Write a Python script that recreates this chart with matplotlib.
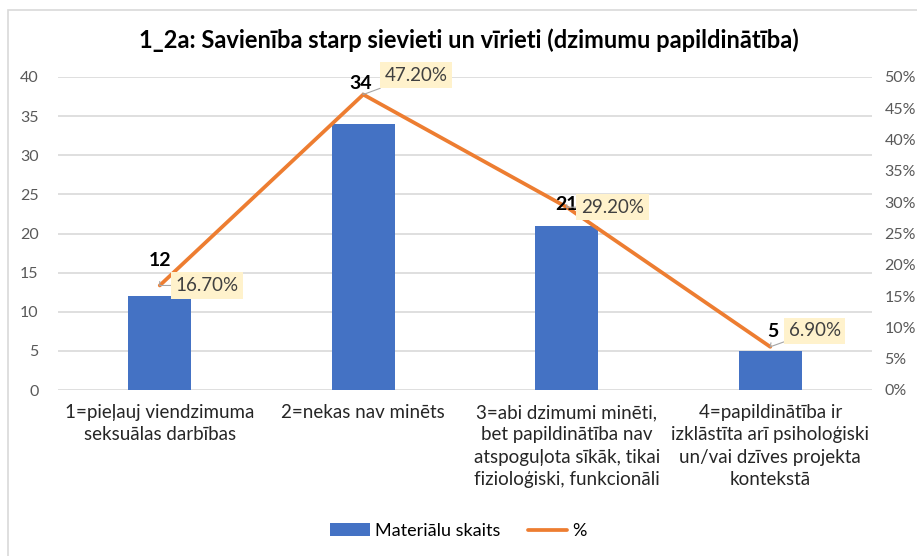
import matplotlib.pyplot as plt
from matplotlib.patches import Rectangle
from matplotlib.ticker import FuncFormatter

categories = ['1=pieļauj viendzimuma\nseksuālas darbības',
              '2=nekas nav minēts',
              '3=abi dzimumi minēti,\nbet papildinātība nav\natspoguļota sīkāk, tikai\nfizioloģiski, funkcionāli',
              '4=papildinātība ir\nizklāstīta arī psiholoģiski\nun/vai dzīves projekta\nkontekstā']
counts = [12, 34, 21, 5]
percents = [16.7, 47.2, 29.2, 6.9]
title = '1_2a: Savienība starp sievieti un vīrieti (dzimumu papildinātība)'

plt.rcParams['font.family'] = ['Lato', 'DejaVu Sans']

fig = plt.figure(figsize=(9.17, 5.56), dpi=100)
fig.patches.append(Rectangle((8/917, -0.1), 1.2, 0.1 + 1 - 10/556, transform=fig.transFigure,
                             fill=False, edgecolor='#D9D9D9', linewidth=1.2))

ax = fig.add_axes([58/917, 1 - 390/556, 814/917, 313/556])
ax2 = ax.twinx()
x = list(range(len(categories)))

ax.bar(x, counts, width=0.31, color='#4472C4', zorder=2, label='Materiālu skaits')
ax.set_ylim(0, 40)
ax.set_yticks(range(0, 41, 5))
ax.set_xlim(-0.5, 3.5)
ax.grid(axis='y', color='#D9D9D9', linewidth=1.2, zorder=0)
ax.set_axisbelow(True)
ax.set_xticks(x)
ax.set_xticklabels(categories, fontsize=13.5, color='#262626', linespacing=1.38)
ax.tick_params(axis='x', length=0, pad=10)
ax.tick_params(axis='y', length=0, labelsize=11.5, labelcolor='#595959', pad=14)
for s in ax.spines.values():
    s.set_visible(False)

ax2.plot(x, percents, color='#ED7D31', linewidth=2.7, zorder=3, label='%',
         solid_capstyle='round')
ax2.set_ylim(0, 50)
ax2.set_yticks(range(0, 51, 5))
ax2.yaxis.set_major_formatter(FuncFormatter(lambda v, p: f'{int(v)}%'))
ax2.tick_params(axis='y', length=0, labelsize=11.5, labelcolor='#595959', pad=9)
for s in ax2.spines.values():
    s.set_visible(False)

# data labels: counts (bold) and percents (boxed), with leader lines
count_off = [(0, 18), (-2, 8), (0, 2), (2, 11)]
pct_off = [(34, 0), (38, 14), (33, 0), (32, 11.5)]
for i in x:
    ax2.annotate(str(counts[i]), xy=(i, percents[i]), xytext=count_off[i],
                 textcoords='offset points', ha='center', va='center',
                 fontsize=14, fontweight='bold', color='black', zorder=5,
                 arrowprops=dict(arrowstyle='-', color='#A6A6A6', lw=0.8,
                                 shrinkA=7, shrinkB=0))
    ax2.annotate(f'{percents[i]:.2f}%', xy=(i, percents[i]), xytext=pct_off[i],
                 textcoords='offset points', ha='center', va='center',
                 fontsize=13.5, color='#404040', zorder=5,
                 bbox=dict(boxstyle='square,pad=0.25', facecolor='#FFF2CC', edgecolor='none'),
                 arrowprops=dict(arrowstyle='-', color='#A6A6A6', lw=0.8,
                                 shrinkA=0, shrinkB=0))

fig.text(469/917, 1 - 40/556, title, ha='center', va='center',
         fontsize=17, fontweight='bold', color='black')

h1, l1 = ax.get_legend_handles_labels()
h2, l2 = ax2.get_legend_handles_labels()
fig.legend(h1 + h2, l1 + l2, loc='center', bbox_to_anchor=(0.5, 1 - 531/556),
           ncol=2, frameon=False, fontsize=13, handlelength=2.2,
           handletextpad=0.3, columnspacing=1.5)

fig.savefig('out.png', dpi=100)
